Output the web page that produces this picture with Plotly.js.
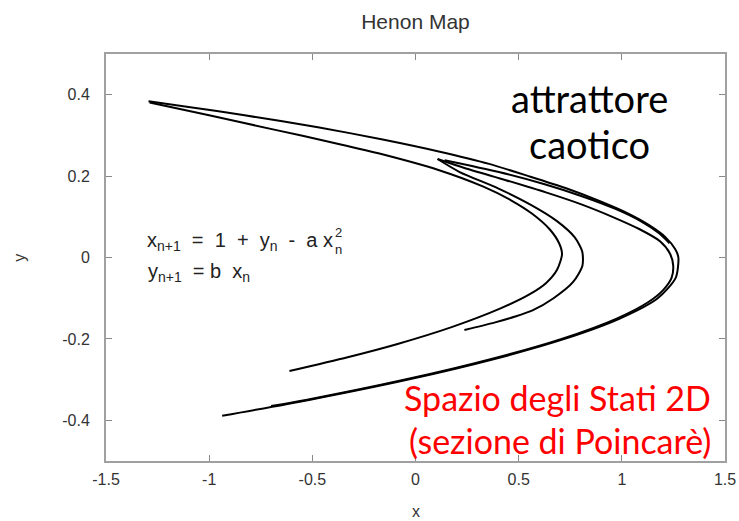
<!DOCTYPE html>
<html>
<head>
<meta charset="utf-8">
<script src="https://cdn.plot.ly/plotly-3.0.1.min.js"></script>
<style>html,body{margin:0;padding:0;background:#fff;}#chart{width:739px;height:521px;}</style>
</head>
<body>
<div id="chart"></div>
<script>
// Outer strand (tip -> right turn at x~1.27 -> lower-left end)
var outerX = [-1.294, -1.100, -0.836, -0.473, -0.159, 0.118, 0.357, 0.548, 0.730, 0.885, 1.022, 1.130, 1.211, 1.259, 1.274, 1.261, 1.174, 0.990, 0.723, 0.378, -0.035, -0.516, -0.937];
var outerY = [0.384, 0.370, 0.350, 0.320, 0.290, 0.260, 0.230, 0.200, 0.170, 0.140, 0.110, 0.080, 0.050, 0.020, 0.000, -0.050, -0.100, -0.150, -0.200, -0.250, -0.300, -0.350, -0.389];
// Inner strand (tip -> turn at x~0.71 -> end near (-0.61,-0.28))
var innerX = [-1.289, -1.006, -0.674, -0.415, -0.180, 0.111, 0.329, 0.465, 0.564, 0.649, 0.696, 0.710, 0.686, 0.632, 0.554, 0.412, 0.175, -0.091, -0.329, -0.611];
var innerY = [0.381, 0.350, 0.313, 0.284, 0.256, 0.215, 0.174, 0.140, 0.108, 0.070, 0.035, 0.008, -0.030, -0.063, -0.090, -0.125, -0.171, -0.213, -0.245, -0.279];
// Short strand (start (0.107,0.242) -> turn at x~0.81 -> end (0.24,-0.18))
var midX = [0.107, 0.214, 0.400, 0.557, 0.684, 0.771, 0.808, 0.809, 0.764, 0.669, 0.567, 0.483, 0.382, 0.237];
var midY = [0.242, 0.210, 0.170, 0.130, 0.090, 0.050, 0.015, -0.020, -0.060, -0.100, -0.130, -0.145, -0.160, -0.178];
// Strand inside the outer band (start (0.107,0.242) -> turn at x~1.25 -> along the lower arm)
var bandX = [0.107, 0.237, 0.438, 0.632, 0.807, 0.954, 1.084, 1.185, 1.233, 1.249, 1.241, 1.200, 1.127, 0.975, 0.708, 0.363, -0.050, -0.531, -0.700];
var bandY = [0.242, 0.220, 0.190, 0.160, 0.130, 0.100, 0.070, 0.040, 0.010, -0.020, -0.050, -0.080, -0.110, -0.150, -0.200, -0.250, -0.300, -0.350, -0.365];
// Strand in the middle of the upper band
var band2X = [0.141, 0.404, 0.626, 0.810, 0.966, 1.089, 1.179, 1.231];
var band2Y = [0.239, 0.210, 0.180, 0.150, 0.120, 0.090, 0.060, 0.035];

var xTickVals = [-1.5, -1, -0.5, 0, 0.5, 1, 1.5];
var xTickText = ["-1.5", "-1", "-0.5", "0", "0.5", "1", "1.5"];
var yTickVals = [-0.4, -0.2, 0, 0.2, 0.4];
var yTickText = ["-0.4", "-0.2", "0", "0.2", "0.4"];

var lineStyle = {color: '#000', width: 2, shape: 'spline', smoothing: 0.7};
function tr(x, y) { return {x: x, y: y, mode: 'lines', line: lineStyle, hoverinfo: 'skip', showlegend: false}; }
var data = [tr(outerX, outerY), tr(innerX, innerY), tr(midX, midY), tr(bandX, bandY), tr(band2X, band2Y)];

var sans = 'Liberation Sans, Arial, sans-serif';
var tickFont = {family: sans, size: 16, color: '#333'};
var nb = '\u00a0';
function axisBase(standoff) {
  return {
    showgrid: false, zeroline: false, showline: true, linecolor: '#a0a0a0', linewidth: 2,
    mirror: 'ticks', ticks: 'inside', ticklen: 6, tickwidth: 1, tickcolor: '#888',
    tickfont: tickFont, fixedrange: true, ticklabelstandoff: standoff
  };
}
var bigFont = {family: 'Lato, Open Sans, sans-serif', size: 38, color: '#000'};
var redFont = {family: 'Lato, Open Sans, sans-serif', size: 34, color: '#ff0000'};
var formulaFont = {family: sans, size: 20, color: '#222'};
var layout = {
  width: 739, height: 521,
  margin: {l: 106, r: 14, t: 54, b: 60},
  paper_bgcolor: '#fff', plot_bgcolor: '#fff',
  title: {text: 'Henon Map', font: {family: sans, size: 21, color: '#333'},
          x: 0.5, xref: 'paper', y: 0.958, yref: 'container', yanchor: 'middle'},
  xaxis: Object.assign(axisBase(3), {range: [-1.5, 1.5], tickmode: 'array', tickvals: xTickVals, ticktext: xTickText}),
  yaxis: Object.assign(axisBase(11), {range: [-0.5, 0.5], tickmode: 'array', tickvals: yTickVals, ticktext: yTickText}),
  annotations: [
    {text: 'x', xref: 'paper', yref: 'paper', x: 0.5, y: -0.125, showarrow: false, font: tickFont, xanchor: 'center', yanchor: 'middle'},
    {text: 'y', xref: 'paper', yref: 'paper', x: -0.14, y: 0.5, showarrow: false, font: tickFont, textangle: -90, xanchor: 'center', yanchor: 'middle'},
    {text: 'x<sub>n+1</sub>' + nb + nb + '=' + nb + nb + '1' + nb + nb + '+' + nb + nb + 'y<sub>n</sub>' + nb + nb + '-' + nb + nb + 'a' + nb + 'x',
     xref: 'x', yref: 'y', x: -1.305, y: 0.040, showarrow: false, xanchor: 'left', yanchor: 'middle', borderpad: 0, font: formulaFont},
    {text: '2<br>n', xref: 'x', yref: 'y', x: -0.396, y: 0.040, showarrow: false, xanchor: 'left', yanchor: 'middle', align: 'left', borderpad: 0,
     font: {family: sans, size: 13, color: '#222'}},
    {text: 'y<sub>n+1</sub>' + nb + nb + '=' + nb + 'b' + nb + nb + 'x<sub>n</sub>', xref: 'x', yref: 'y', x: -1.305, y: -0.038, showarrow: false, xanchor: 'left', yanchor: 'middle', font: formulaFont},
    {text: 'attrattore', xref: 'x', yref: 'y', x: 0.843, y: 0.393, showarrow: false, xanchor: 'center', yanchor: 'middle', font: bigFont},
    {text: 'caotico', xref: 'x', yref: 'y', x: 0.843, y: 0.280, showarrow: false, xanchor: 'center', yanchor: 'middle', font: bigFont},
    {text: 'Spazio degli Stati 2D', xref: 'x', yref: 'y', x: 0.688, y: -0.345, showarrow: false, xanchor: 'center', yanchor: 'middle', font: redFont},
    {text: '(sezione di Poincarè)', xref: 'x', yref: 'y', x: 0.698, y: -0.450, showarrow: false, xanchor: 'center', yanchor: 'middle', font: redFont}
  ]
};
Plotly.newPlot('chart', data, layout, {displayModeBar: false, staticPlot: true});
</script>
</body>
</html>
